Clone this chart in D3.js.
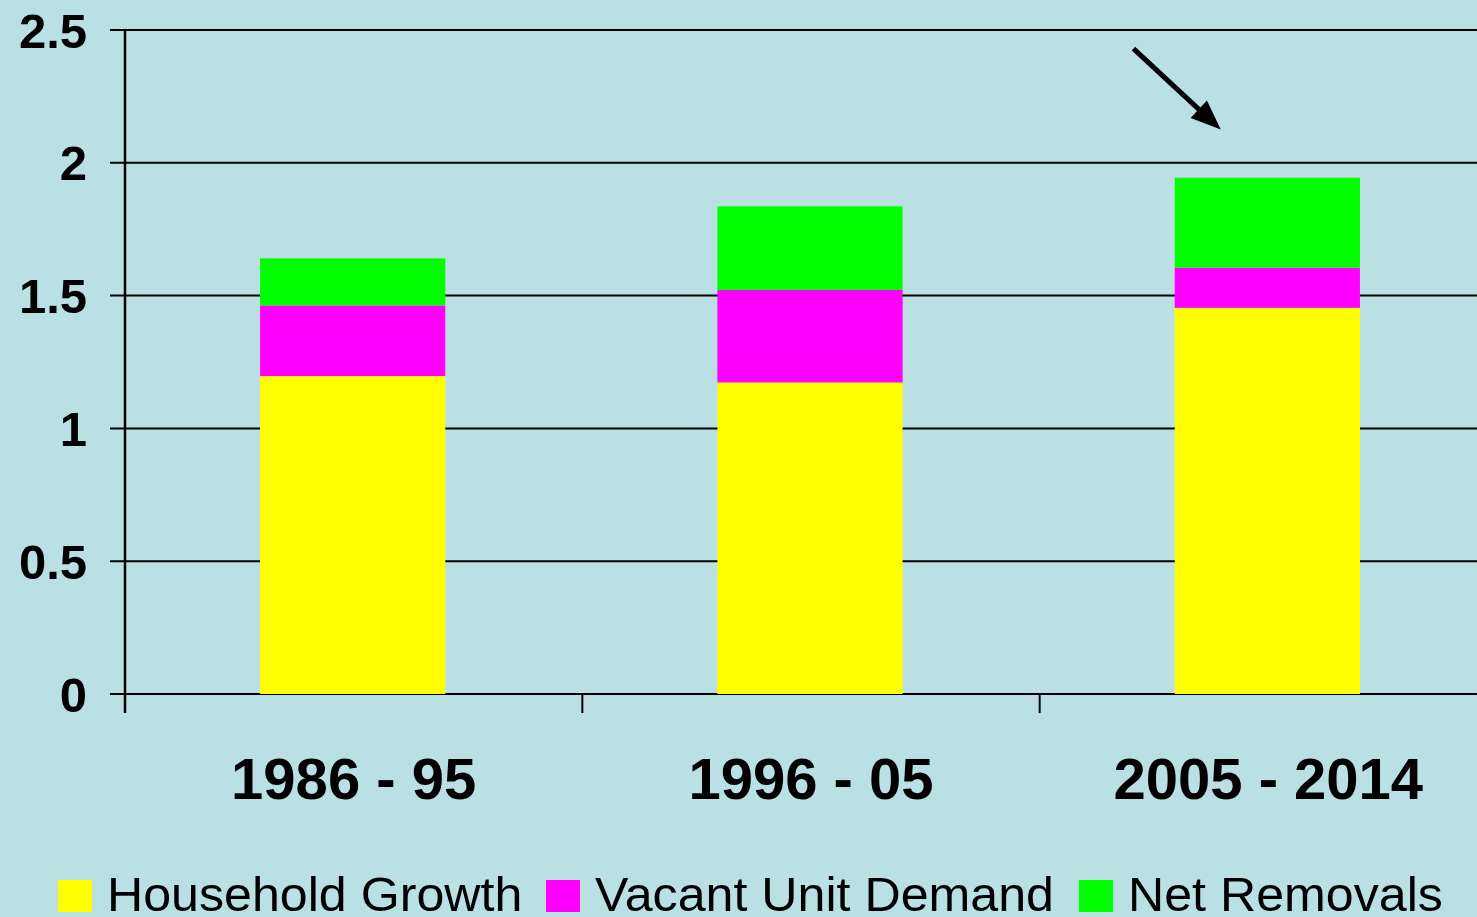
<!DOCTYPE html>
<meta charset="utf-8">
<style>
  body { margin: 0; background: #BAE0E3; }
  text { font-family: "Liberation Sans", Arial, sans-serif; }
</style>

<!-- Load d3.js -->
<script src="https://d3js.org/d3.v7.min.js"></script>

<!-- Create a div where the graph will take place -->
<div id="my_dataviz"></div>

<script>
    // data (millions of units)
    var periods = ["1986 - 95", "1996 - 05", "2005 - 2014"]
    var householdGrowth = [1.197, 1.173, 1.454]
    var vacantUnitDemand = [0.266, 0.348, 0.151]
    var netRemovals = [0.177, 0.315, 0.339]
    var yTicks = [0, 0.5, 1, 1.5, 2, 2.5]
    var seriesNames = ["Household Growth", "Vacant Unit Demand", "Net Removals"]
    var seriesColors = ["#FFFF00", "#FF00FF", "#00FF00"]

    var width = 1477
    var height = 917

    var svg = d3.select("#my_dataviz")
        .append("svg")
        .attr("width", width)
        .attr("height", height)
        .style("display", "block")

    svg.append("rect")
        .attr("width", width)
        .attr("height", height)
        .attr("fill", "#BAE0E3")

    // scales: each category gets a full slot, bar sits in the middle 40% of it
    var x = d3.scaleBand()
        .domain(periods)
        .range([125, 1497])
        .padding(0)

    var y = d3.scaleLinear()
        .domain([0, 2.5])
        .range([694, 30])

    var barFrac = 0.405

    // gridlines with little ticks on the left
    svg.append("g")
        .selectAll("line")
        .data(yTicks)
        .enter()
        .append("line")
        .attr("x1", 110)
        .attr("x2", x.range()[1])
        .attr("y1", function(d) { return y(d) })
        .attr("y2", function(d) { return y(d) })
        .attr("stroke", "#000")
        .attr("stroke-width", 2)

    // y tick labels
    svg.append("g")
        .selectAll("text")
        .data(yTicks)
        .enter()
        .append("text")
        .attr("x", 87)
        .attr("y", function(d) { return y(d) })
        .attr("dy", "0.36em")
        .attr("text-anchor", "end")
        .style("font-size", "49px")
        .style("font-weight", "bold")
        .text(function(d) { return d3.format("")(d) })

    // stack the three series
    var rows = periods.map(function(p, i) {
        return { period: p, s0: householdGrowth[i], s1: vacantUnitDemand[i], s2: netRemovals[i] }
    })
    var stacked = d3.stack().keys(["s0", "s1", "s2"])(rows)

    svg.append("g")
        .selectAll("g")
        .data(stacked)
        .enter()
        .append("g")
        .attr("fill", function(d, i) { return seriesColors[i] })
        .selectAll("rect")
        .data(function(d) { return d })
        .enter()
        .append("rect")
        .attr("x", function(d) { return x(d.data.period) + x.bandwidth() * (1 - barFrac) / 2 - 1 })
        .attr("width", x.bandwidth() * barFrac)
        .attr("y", function(d) { return y(d[1]) })
        .attr("height", function(d) { return y(d[0]) - y(d[1]) })

    // y axis line
    svg.append("line")
        .attr("x1", x.range()[0])
        .attr("x2", x.range()[0])
        .attr("y1", y(2.5))
        .attr("y2", y(0) + 19)
        .attr("stroke", "#000")
        .attr("stroke-width", 2.5)

    // x axis ticks at the slot boundaries
    var bounds = periods.map(function(p) { return x(p) }).concat([x.range()[1]])
    svg.append("g")
        .selectAll("line")
        .data(bounds.slice(1))
        .enter()
        .append("line")
        .attr("x1", function(d) { return d })
        .attr("x2", function(d) { return d })
        .attr("y1", y(0))
        .attr("y2", y(0) + 19)
        .attr("stroke", "#000")
        .attr("stroke-width", 2)

    // x labels
    svg.append("g")
        .selectAll("text")
        .data(periods)
        .enter()
        .append("text")
        .attr("x", function(d) { return x(d) + x.bandwidth() / 2 })
        .attr("y", 799)
        .attr("text-anchor", "middle")
        .style("font-size", "58px")
        .style("font-weight", "bold")
        .text(function(d) { return d })

    // arrow pointing at the last bar: shaft + triangle head
    var last = periods[2]
    var x0 = x(last) + x.bandwidth() * 0.205, y0 = y(2.43)
    var x1 = x(last) + x.bandwidth() * 0.396, y1 = y(2.125)
    var len = Math.hypot(x1 - x0, y1 - y0)
    var ux = (x1 - x0) / len, uy = (y1 - y0) / len
    var headLen = 30, headHalf = 12
    var bx = x1 - ux * headLen, by = y1 - uy * headLen

    svg.append("line")
        .attr("x1", x0)
        .attr("y1", y0)
        .attr("x2", bx + ux * 2)
        .attr("y2", by + uy * 2)
        .attr("stroke", "#000")
        .attr("stroke-width", 5)

    svg.append("path")
        .attr("d", d3.line()([
            [x1, y1],
            [bx - uy * headHalf, by + ux * headHalf],
            [bx + uy * headHalf, by - ux * headHalf]
        ]) + "Z")
        .attr("fill", "#000")

    // legend
    var legendX = [58, 546, 1079]
    var legend = svg.append("g")
        .selectAll("g")
        .data(seriesNames)
        .enter()
        .append("g")
        .attr("transform", function(d, i) { return "translate(" + legendX[i] + ",0)" })

    legend.append("rect")
        .attr("x", 0)
        .attr("y", 880)
        .attr("width", 34)
        .attr("height", 32)
        .attr("fill", function(d, i) { return seriesColors[i] })

    legend.append("text")
        .attr("transform", "translate(49,911) scale(1.045,1)")
        .style("font-size", "48px")
        .text(function(d) { return d })
</script>
